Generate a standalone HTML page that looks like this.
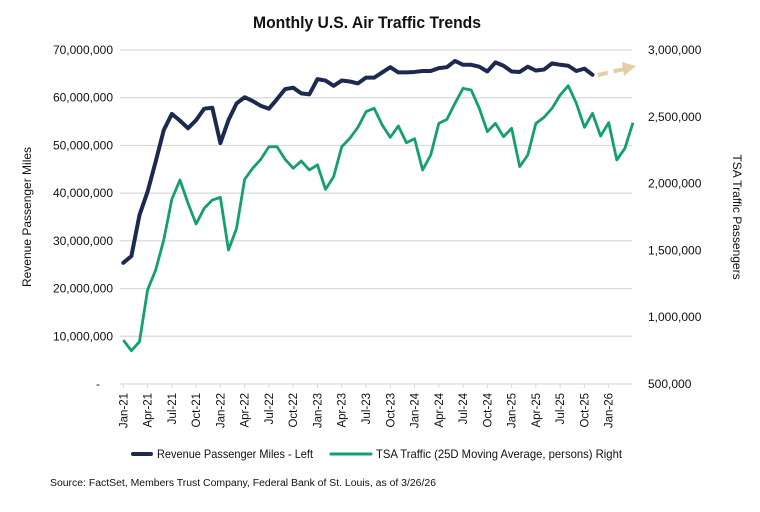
<!DOCTYPE html>
<html><head><meta charset="utf-8"><style>
body{margin:0;background:#fff;width:760px;height:507px;overflow:hidden;font-family:"Liberation Sans",sans-serif}
svg text{font-family:"Liberation Sans",sans-serif}
</style></head><body>
<svg id="chart" width="760" height="507">
<text x="367" y="28" text-anchor="middle" font-size="17" font-weight="bold" fill="#111" textLength="228" lengthAdjust="spacingAndGlyphs">Monthly U.S. Air Traffic Trends</text>
<g id="grid"></g>
<g id="xaxis"></g>
<g id="yleft"></g>
<g id="yright"></g>
<text transform="translate(31,217) rotate(-90)" text-anchor="middle" font-size="12" fill="#111">Revenue Passenger Miles</text>
<text transform="translate(733,217) rotate(90)" text-anchor="middle" font-size="12" fill="#111">TSA Traffic Passengers</text>
<g id="series"></g>
<g>
<line x1="598" y1="75" x2="624" y2="69" stroke="#e3cfa6" stroke-width="4" stroke-dasharray="10,6"/>
<polygon points="622,62 636,66 624,76" fill="#e3cfa6"/>
</g>
<g>
<g>
<line x1="133" y1="454" x2="151" y2="454" stroke="#1b2a4e" stroke-width="4" stroke-linecap="round"/>
<text x="157" y="458" font-size="12" fill="#111" textLength="156" lengthAdjust="spacingAndGlyphs">Revenue Passenger Miles - Left</text></g>
<g>
<line x1="331" y1="454" x2="371" y2="454" stroke="#14a06a" stroke-width="3" stroke-linecap="round"/>
<text x="376" y="458" font-size="12" fill="#111" textLength="246" lengthAdjust="spacingAndGlyphs">TSA Traffic (25D Moving Average, persons) Right</text></g>
</g>
<text x="50" y="486" font-size="10" fill="#111" textLength="386" lengthAdjust="spacingAndGlyphs">Source: FactSet, Members Trust Company, Federal Bank of St. Louis, as of 3/26/26</text>
</svg>
<script>
const rpm=[25.4,26.8,35.4,40.3,46.6,53.2,56.6,55.2,53.6,55.3,57.7,57.9,50.5,55.3,58.8,60.1,59.3,58.3,57.7,59.7,61.8,62.1,60.9,60.7,63.9,63.6,62.5,63.6,63.4,63.0,64.2,64.2,65.3,66.4,65.3,65.3,65.4,65.6,65.6,66.2,66.4,67.7,66.9,66.9,66.5,65.5,67.4,66.7,65.5,65.4,66.5,65.7,65.9,67.2,66.9,66.7,65.6,66.1,64.8];
const tsa=[829,749,817,1204,1353,1578,1883,2027,1853,1698,1815,1877,1897,1503,1665,2032,2115,2182,2276,2276,2182,2115,2169,2102,2140,1957,2052,2276,2339,2421,2538,2564,2439,2346,2431,2306,2336,2102,2214,2451,2481,2601,2713,2701,2564,2389,2451,2351,2414,2127,2214,2451,2496,2564,2663,2733,2601,2421,2526,2356,2456,2177,2264,2456];
const months=["Jan","Feb","Mar","Apr","May","Jun","Jul","Aug","Sep","Oct","Nov","Dec"];
const leftTicks=[0,10,20,30,40,50,60,70];
const rightTicks=[500,1000,1500,2000,2500,3000];
const NS="http://www.w3.org/2000/svg";
const X0=123.3,DX=8.09,YB=384,YT=50;
const x=i=>X0+i*DX;
const yL=v=>YB-(v/70)*(YB-YT);
const yR=v=>YB-((v-500)/2500)*(YB-YT);
function mk(t,a,p){const e=document.createElementNS(NS,t);for(const k in a)e.setAttribute(k,a[k]);document.getElementById(p).appendChild(e);return e;}
leftTicks.forEach(v=>{
 const g=mk("line",{x1:120,x2:632,y1:yL(v),y2:yL(v),stroke:"#d9d9d9","stroke-width":1.2},"grid");
 
 
 const t=mk("text",{x:v===0?100:113,y:yL(v)+4,"text-anchor":"end","font-size":12,fill:"#111"},"yleft");
 t.textContent=v===0?"-":(v*1000000).toLocaleString("en-US");
 
 
});
rightTicks.forEach(v=>{
 const t=mk("text",{x:648,y:yR(v)+4,"font-size":12,fill:"#111"},"yright");
 t.textContent=(v*1000).toLocaleString("en-US");
 
 
});
for(let i=0;i<=60;i+=3){
 const tk=mk("line",{x1:x(i),x2:x(i),y1:384,y2:388,stroke:"#d9d9d9"},"xaxis");
 
 
 const lbl=months[i%12]+"-"+(21+Math.floor(i/12));
 const t=mk("text",{transform:`translate(${x(i)+4},393) rotate(-90)`,"text-anchor":"end","font-size":11.5,fill:"#111"},"xaxis");
 t.textContent=lbl;
 
 
}
const p1=mk("polyline",{points:rpm.map((v,i)=>x(i)+","+yL(v)).join(" "),fill:"none",stroke:"#1b2a4e","stroke-width":4,"stroke-linejoin":"round","stroke-linecap":"round"},"series");


const p2=mk("polyline",{points:tsa.map((v,i)=>x(i)+","+yR(v)).join(" "),fill:"none",stroke:"#14a06a","stroke-width":2.8,"stroke-linejoin":"round"},"series");


</script>
</body></html>
